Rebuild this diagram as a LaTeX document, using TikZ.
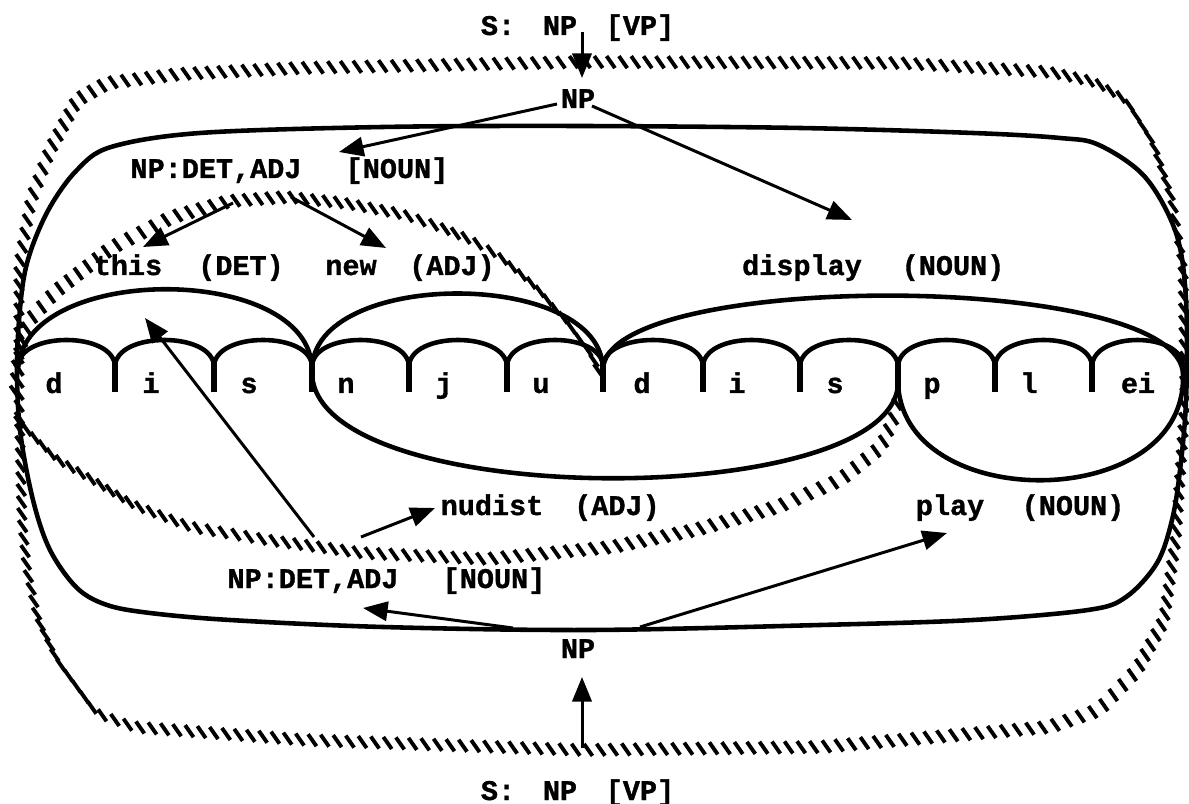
\documentclass[tikz,border=0pt]{standalone}
\usepackage{fontspec}
\newfontfamily\cour{Liberation Mono}[BoldFeatures={FakeBold=1.2}]
\usetikzlibrary{arrows.meta,calc}
\tikzset{
  txt/.style={font=\cour\bfseries\fontsize{8.1}{9}\selectfont, inner sep=0pt, anchor=base},
  solidline/.style={line width=1.3pt, line join=round, line cap=round},
  arr/.style={line width=0.85pt, -{Triangle[length=7pt,width=5.5pt]}},
  tick/.style={line width=1.1pt},
  stem/.style={line width=1.7pt},
}
\newcommand\hatchline[1]{%
 \foreach \x/\y [remember=\x as \px (initially N), remember=\y as \py (initially N)] in {#1} {%
   \if N\px\else
     \pgfmathsetmacro\hlen{100*veclen((\x-\px)/100,(\y-\py)/100)}%
     \pgfmathtruncatemacro\hn{max(1,round(\hlen/12.5))}%
     \foreach \k in {1,...,\hn} {%
       \pgfmathsetmacro\hx{\px+(\k-0.5)/\hn*(\x-\px)}%
       \pgfmathsetmacro\hy{\py+(\k-0.5)/\hn*(\y-\py)}%
       \draw[tick] (\hx-4.2,\hy-6) -- (\hx+4.2,\hy+6);
     }%
   \fi
 }}
\begin{document}
\begin{tikzpicture}[x=0.01cm,y=-0.01cm]
\useasboundingbox (0,0) rectangle (1189,804);
\fill[white] (0,0) rectangle (1189,804);

% outer hatched boundary
\hatchline{580/62,900/63,1050/72,1095/82,1126/100,1153/143,1172/200,1183/267,1185/400,1176/537,1164/620,1137/670,1099/710,1049/727,820/747,582/750,306/740,134/727,96/713,57/660,38/620,27/570,22/520,19/400,19/267,31/200,50/150,77/100,107/83,180/74,300/68,580/62}

% solid NP box
\draw[solidline] plot[smooth cycle, tension=0.55] coordinates {(578,126) (800,128) (973,133) (1060,138) (1099,145) (1145,177) (1176,233) (1186,300) (1186,400) (1180,470) (1172,520) (1157,563) (1126,597) (1088,610) (973,620) (820,625) (590,630) (383,627) (230,620) (150,613) (107,605) (77,588) (50,550) (33,500) (20,430) (17,360) (22,290) (31,250) (50,207) (77,170) (111,147) (200,133) (383,127)};

% inner hatched curves
\hatchline{14/398,17/360,28/322,55/292,111/248,172/217,230/201,287/197,344/203,402/214,440/227,471/240,498/255,536/287,567/322,592/356,600/375}
\hatchline{15/418,55/458,96/482,134/505,191/527,268/540,363/553,487/559,612/547,695/530,777/507,840/480,881/447,896/413,898/395}

% phoneme scallops
\foreach \a/\b in {18/115,115/214,214/312,312/409,409/507,507/603,603/703,703/800,800/898,898/995,995/1092,1092/1183}
  \draw[solidline] (\a,367) .. controls (\a,331) and (\b,331) .. (\b,367);
\foreach \c in {115,214,312,409,507,603,703,800,898,995,1092}
  \draw[stem] (\c,362) -- (\c,392);

% word arcs
\draw[solidline] (18,372) .. controls (18,262) and (312,262) .. (312,370);
\draw[solidline] (312,370) .. controls (312,268) and (603,268) .. (603,370);
\draw[solidline] (603,370) .. controls (603,270) and (1183,270) .. (1183,375);
\draw[solidline] (312,372) .. controls (312,512) and (898,512) .. (898,382);
\draw[solidline] (898,380) .. controls (898,514) and (1183,514) .. (1183,378);

% texts
\node[txt] (sT) at (498,35) {S:};
\node[txt] (npST) at (560,35) {NP};
\node[txt] (vpT) at (640,35) {[VP]};
\node[txt] (npA) at (578,108) {NP};
\node[txt] (detT) at (216,178) {NP:DET,ADJ};
\node[txt] (nounT) at (397,178) {[NOUN]};
\node[txt] (this) at (128,275) {this};
\node[txt] (det) at (241,275) {(DET)};
\node[txt] (new) at (351,275) {new};
\node[txt] (adjA) at (452,275) {(ADJ)};
\node[txt] (display) at (802,275) {display};
\node[txt] (nounD) at (953,275) {(NOUN)};
\node[txt] (ph1) at (54,393) {d};
\node[txt] (ph2) at (151,393) {i};
\node[txt] (ph3) at (249,393) {s};
\node[txt] (ph4) at (346,393) {n};
\node[txt] (ph5) at (444,393) {j};
\node[txt] (ph6) at (541,393) {u};
\node[txt] (ph7) at (642,393) {d};
\node[txt] (ph8) at (737,393) {i};
\node[txt] (ph9) at (835,393) {s};
\node[txt] (ph10) at (932,393) {p};
\node[txt] (ph11) at (1029,393) {l};
\node[txt] (ph12) at (1138,393) {ei};
\node[txt] (nudist) at (492,515) {nudist};
\node[txt] (adjB) at (617,515) {(ADJ)};
\node[txt] (play) at (950,515) {play};
\node[txt] (nounP) at (1073,515) {(NOUN)};
\node[txt] (detB) at (313,588) {NP:DET,ADJ};
\node[txt] (nounB) at (494,588) {[NOUN]};
\node[txt] (npB) at (578,658) {NP};
\node[txt] (sB) at (498,800) {S:};
\node[txt] (npSB) at (560,800) {NP};
\node[txt] (vpB) at (640,800) {[VP]};

% arrows
\draw[arr] ($(npST.base)+(22,-3)$) -- ($(npA.base)+(4,-30)$);
\draw[arr] ($(npA.base)+(-21,-4)$) -- ($(nounT.base)+(-58,-26)$);
\draw[arr] ($(npA.base)+(14,-2)$) -- ($(display.base)+(50,-55)$);
\draw[arr] ($(detT.base)+(17,25)$) -- ($(this.base)+(15,-28)$);
\draw[arr] ($(detT.base)+(75,19)$) -- ($(new.base)+(35,-27)$);
\draw[arr] ($(detB.base)+(1,-51)$) -- ($(ph2.base)+(-6,-75)$);
\draw[arr] ($(detB.base)+(48,-51)$) -- ($(nudist.base)+(-57,-7)$);
\draw[arr] ($(npSB.base)+(22,-52)$) -- ($(npB.base)+(4,19)$);
\draw[arr] ($(npB.base)+(-65,-30)$) -- ($(detB.base)+(50,20)$);
\draw[arr] ($(npB.base)+(62,-31)$) -- ($(play.base)+(-3,18)$);
\end{tikzpicture}
\end{document}
